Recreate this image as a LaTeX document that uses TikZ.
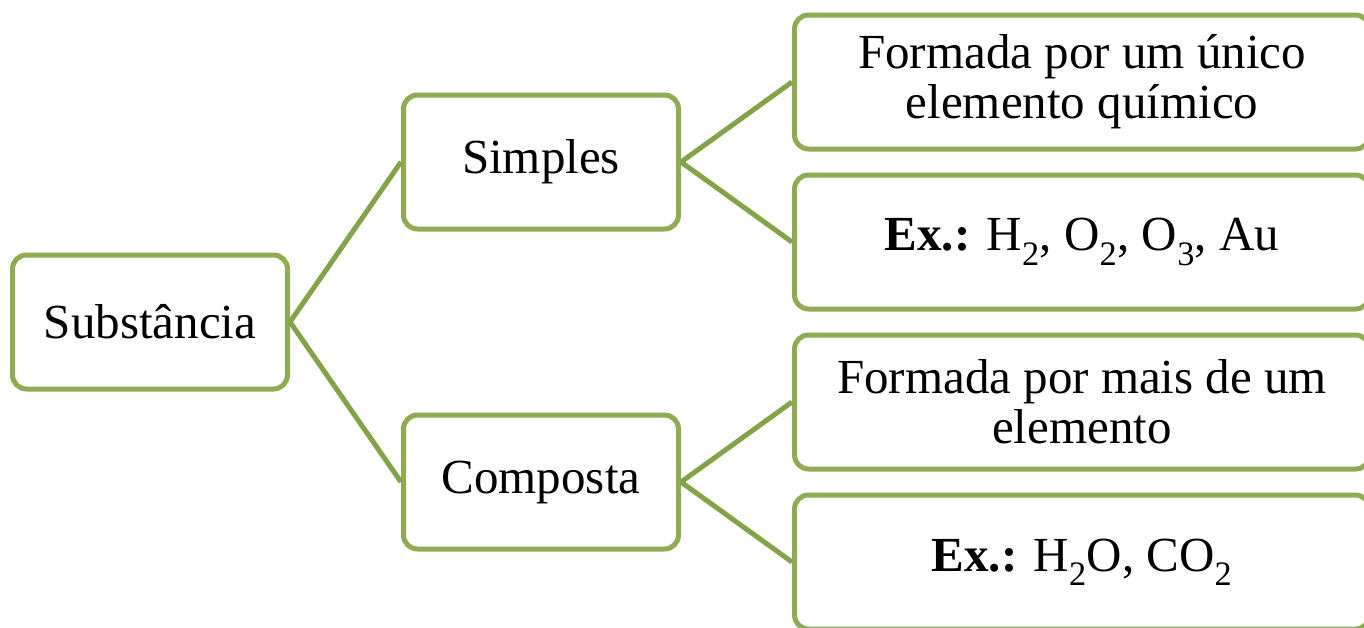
\documentclass[tikz,border=0pt]{standalone}
\usepackage{fontspec}
\setmainfont{Liberation Serif}
\usepackage{tikz}
\usetikzlibrary{positioning}
\definecolor{boxgreen}{HTML}{8FAC52}
\definecolor{linkgreen}{HTML}{84A248}
\tikzstyle{box}=[
  draw=boxgreen,
  line width=5pt,
  rounded corners=14pt,
  fill=white,
  align=center,
  inner sep=0pt,
  font=\fontsize{49}{50}\selectfont
]
\tikzstyle{small}=[minimum width=275pt,minimum height=134pt]
\tikzstyle{wide}=[minimum width=575pt,minimum height=134pt]
\tikzstyle{link}=[draw=linkgreen,line width=5pt]

\begin{document}
\begin{tikzpicture}[x=1pt,y=-1pt]
    \useasboundingbox (0,0) rectangle (1364,627);

    \node[box,small] (subst) at (150,322) {Substância};
    \node[box,small] (simples) at (541,162) {Simples};
    \node[box,small] (composta) at (541,482) {Composta};

    \node[box,wide] (sdef) at (1082,82) {Formada por um único\\elemento químico};
    \node[box,wide] (sex) at (1082,242) {\textbf{Ex.:} H\textsubscript{2}, O\textsubscript{2}, O\textsubscript{3}, Au};
    \node[box,wide] (cdef) at (1082,402) {Formada por mais de um\\elemento};
    \node[box,wide] (cex) at (1082,562) {\textbf{Ex.:} H\textsubscript{2}O, CO\textsubscript{2}};

    \draw[link] (subst.east) -- (simples.west);
    \draw[link] (subst.east) -- (composta.west);
    \draw[link] (simples.east) -- (sdef.west);
    \draw[link] (simples.east) -- (sex.west);
    \draw[link] (composta.east) -- (cdef.west);
    \draw[link] (composta.east) -- (cex.west);
  \end{tikzpicture}
\end{document}
